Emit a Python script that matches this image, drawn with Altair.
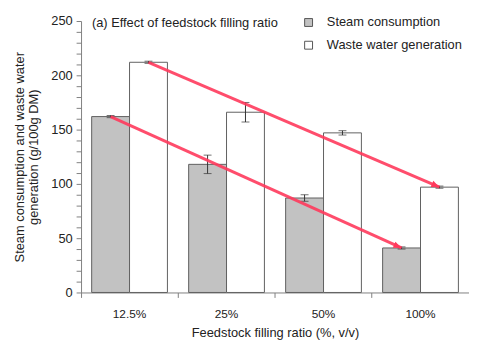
import altair as alt
import pandas as pd

categories = ["12.5%", "25%", "50%", "100%"]
series = ["Steam consumption", "Waste water generation"]
steam = [162, 118, 87, 41]
steam_err = [1, 8.5, 3, 1]
waste = [212, 166, 147, 97]
waste_err = [1, 9, 2, 1]

rows = []
for i, c in enumerate(categories):
    rows.append({"cat": c, "series": series[0], "value": steam[i], "lo": steam[i] - steam_err[i], "hi": steam[i] + steam_err[i]})
    rows.append({"cat": c, "series": series[1], "value": waste[i], "lo": waste[i] - waste_err[i], "hi": waste[i] + waste_err[i]})
df = pd.DataFrame(rows)

arrow_df = pd.DataFrame([
    {"cat": categories[0], "series": series[0], "value": steam[0], "order": 0},
    {"cat": categories[3], "series": series[0], "value": steam[3], "order": 1},
    {"cat": categories[0], "series": series[1], "value": waste[0], "order": 0},
    {"cat": categories[3], "series": series[1], "value": waste[3], "order": 1},
])
head_df = arrow_df[arrow_df["order"] == 1]

FONT = "Liberation Sans"

xscale = alt.Scale(domain=categories, paddingInner=0, paddingOuter=0)
xoff_scale = alt.Scale(domain=series, paddingOuter=0.28, paddingInner=0)
yscale = alt.Scale(domain=[0, 250], nice=False)

x_axis = alt.Axis(title="Feedstock filling ratio (%, v/v)", labelAngle=0,
                  bandPosition=0, tickSize=5, labelPadding=11, titlePadding=8,
                  labelFontSize=12, titleFontSize=13)
y_axis = alt.Axis(title=["Steam consumption and waste water", "generation (g/100g DM)"],
                  values=list(range(0, 251, 10)),
                  labelExpr="datum.value % 50 == 0 ? datum.label : ''",
                  labelOverlap=False, tickSize=5, labelPadding=4, titlePadding=10,
                  labelFontSize=13, titleFontSize=13)


def X():
    return alt.X("cat:N", scale=xscale, sort=categories, axis=x_axis)


def XO():
    return alt.XOffset("series:N", scale=xoff_scale)


def Y(field):
    return alt.Y(field, scale=yscale, axis=y_axis)


bars = alt.Chart(df).mark_bar(stroke="#606060", strokeWidth=1).encode(
    x=X(), xOffset=XO(), y=Y("value:Q"),
    fill=alt.Fill("series:N", scale=alt.Scale(domain=series, range=["#c2c2c2", "#ffffff"]),
                  legend=alt.Legend(title=None, orient="none", legendX=224, legendY=-5,
                                    symbolType="square", symbolSize=64,
                                    symbolStrokeColor="#555555", symbolStrokeWidth=1,
                                    labelFontSize=13, labelFont=FONT, labelColor="#222222",
                                    rowPadding=9, labelOffset=12)),
)

err_rule = alt.Chart(df).mark_rule(color="#333333", strokeWidth=1).encode(
    x=X(), xOffset=XO(), y=Y("lo:Q"), y2="hi:Q",
)
err_lo = alt.Chart(df).mark_tick(color="#333333", size=8, thickness=1).encode(
    x=X(), xOffset=XO(), y=Y("lo:Q"),
)
err_hi = alt.Chart(df).mark_tick(color="#333333", size=8, thickness=1).encode(
    x=X(), xOffset=XO(), y=Y("hi:Q"),
)

arrows = alt.Chart(arrow_df).mark_line(color="#ff3a5c", strokeWidth=3, opacity=0.9).encode(
    x=X(), xOffset=XO(), y=Y("value:Q"),
    detail="series:N", order="order:Q",
)
heads = alt.Chart(head_df).mark_point(
    shape="M0,0L-2.2,-0.9L-2.2,0.9Z", filled=True, color="#ff3a5c", size=56, opacity=1, angle=23.5
).encode(
    x=X(), xOffset=XO(), y=Y("value:Q"),
)

title_text = alt.Chart(pd.DataFrame({"t": ["(a) Effect of feedstock filling ratio"]})).mark_text(
    align="left", baseline="middle", fontSize=13, font=FONT, color="#222222"
).encode(x=alt.value(11), y=alt.value(2), text="t:N")

chart = alt.layer(bars, err_rule, err_lo, err_hi, arrows, heads, title_text).properties(
    width=393, height=275,
    autosize=alt.AutoSizeParams(type="none"),
    padding={"left": 74, "top": 11, "right": 0, "bottom": 50},
    background="white",
).configure_view(stroke=None).configure_axis(
    domainColor="#808080", tickColor="#808080", grid=False,
    labelFont=FONT, titleFont=FONT,
    labelColor="#222222", titleColor="#222222", titleFontWeight="normal",
)

chart.save("out.html", embed_options={"renderer": "svg", "actions": False})
